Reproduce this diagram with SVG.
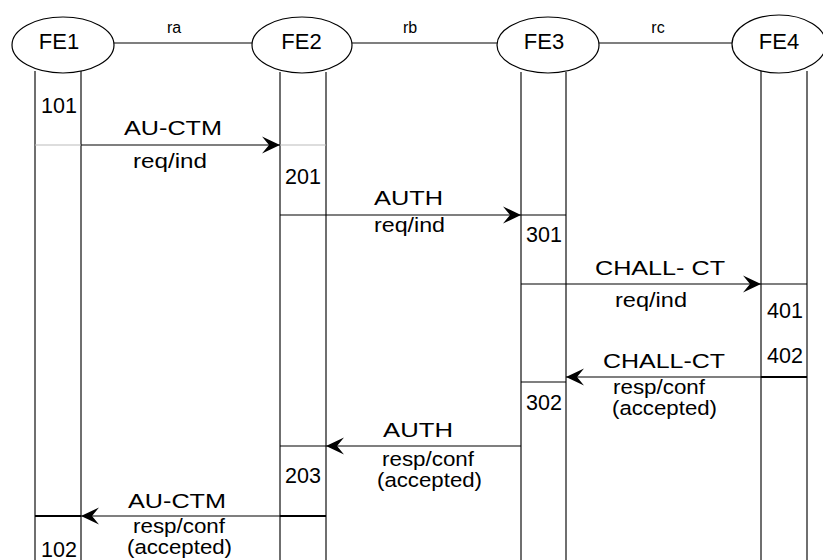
<svg xmlns="http://www.w3.org/2000/svg" width="823" height="560" viewBox="0 0 823 560">
  <style>
    text { font-family: "Liberation Sans", Arial, sans-serif; fill: #000; }
    .fe { font-size: 22px; text-anchor: middle; }
    .ref { font-size: 16px; text-anchor: middle; }
    .num { font-size: 21.5px; }
    .msg { font-size: 20.5px; text-anchor: middle; }
    .node { fill: #fff; stroke: #000; stroke-width: 1.2; }
    .life { stroke: #333; stroke-width: 1.4; fill: none; }
    .ln { stroke: #000; stroke-width: 1.2; fill: none; }
    .faint { stroke: #bbb; stroke-width: 1; fill: none; }
    .thick { stroke: #000; stroke-width: 2.2; fill: none; }
  </style>
  <defs>
    <marker id="head" markerUnits="userSpaceOnUse" markerWidth="20" markerHeight="20" viewBox="-19 -10 20 20" refX="0" refY="0" orient="auto">
      <path d="M0,0 L-18,-8.5 L-11,0 L-18,8.5 Z" fill="#000"/>
    </marker>
  </defs>
  <rect width="823" height="560" fill="#fff"/>

  <!-- lifelines -->
  <g id="lifelines">
    <path class="life" d="M35,71 V560 M81,71 V560"/>
    <path class="life" d="M280,72 V560 M326,72 V560"/>
    <path class="life" d="M521,72 V560 M566,72 V560"/>
    <path class="life" d="M761,71 V560 M807,71 V560"/>
  </g>

  <!-- connectors -->
  <g id="connectors">
    <line class="ln" x1="114" y1="43" x2="252" y2="43"/>
    <line class="ln" x1="352" y1="43" x2="497" y2="43"/>
    <line class="ln" x1="599" y1="43" x2="733" y2="43"/>

    <!-- AU-CTM req/ind -->
    <line class="faint" x1="35" y1="145" x2="81" y2="145"/>
    <line class="ln" x1="81" y1="145" x2="280" y2="145" marker-end="url(#head)"/>
    <line class="faint" x1="280" y1="145" x2="326" y2="145"/>

    <!-- AUTH req/ind -->
    <line class="ln" x1="280" y1="215" x2="521" y2="215" marker-end="url(#head)"/>
    <line class="ln" x1="521" y1="215" x2="566" y2="215"/>

    <!-- CHALL-CT req/ind -->
    <line class="ln" x1="521" y1="284" x2="761" y2="284" marker-end="url(#head)"/>
    <line class="ln" x1="761" y1="284" x2="807" y2="284"/>

    <!-- CHALL-CT resp/conf -->
    <line class="thick" x1="761" y1="377" x2="807" y2="377"/>
    <line class="ln" x1="761" y1="377" x2="566" y2="377" marker-end="url(#head)"/>
    <line class="ln" x1="521" y1="382" x2="566" y2="382"/>

    <!-- AUTH resp/conf -->
    <line class="ln" x1="521" y1="446" x2="326" y2="446" marker-end="url(#head)"/>
    <line class="ln" x1="326" y1="446" x2="280" y2="446"/>

    <!-- AU-CTM resp/conf -->
    <line class="thick" x1="280" y1="516" x2="326" y2="516"/>
    <line class="ln" x1="280" y1="516" x2="81" y2="516" marker-end="url(#head)"/>
    <line class="thick" x1="35" y1="516" x2="81" y2="516"/>
  </g>

  <!-- functional entities -->
  <g id="FE1">
    <ellipse class="node" cx="63" cy="45" rx="51" ry="28"/>
    <text class="fe" x="59" y="49">FE1</text>
  </g>
  <g id="FE2">
    <ellipse class="node" cx="302" cy="45" rx="50" ry="28"/>
    <text class="fe" x="301.5" y="49">FE2</text>
  </g>
  <g id="FE3">
    <ellipse class="node" cx="548" cy="45" rx="51" ry="28"/>
    <text class="fe" x="544" y="49">FE3</text>
  </g>
  <g id="FE4">
    <ellipse class="node" cx="779" cy="44" rx="47" ry="29"/>
    <text class="fe" x="779" y="49">FE4</text>
  </g>

  <!-- reference point labels -->
  <g id="refpoints">
    <text class="ref" x="174" y="33">ra</text>
    <text class="ref" x="410" y="33">rb</text>
    <text class="ref" x="658" y="33">rc</text>
  </g>

  <!-- step numbers -->
  <g id="steps">
    <text class="num" x="41" y="113">101</text>
    <text class="num" x="285" y="184">201</text>
    <text class="num" x="526" y="242">301</text>
    <text class="num" x="767" y="318">401</text>
    <text class="num" x="767" y="363">402</text>
    <text class="num" x="526" y="410">302</text>
    <text class="num" x="285" y="483">203</text>
    <text class="num" x="41" y="557">102</text>
  </g>

  <!-- message labels (glyphs widened to the drawing's wide lettering) -->
  <g id="labels">
    <text class="msg" x="173" y="135" textLength="98" lengthAdjust="spacingAndGlyphs">AU-CTM</text>
    <text class="msg" x="170" y="168" textLength="74" lengthAdjust="spacingAndGlyphs">req/ind</text>
    <text class="msg" x="408.5" y="205" textLength="69" lengthAdjust="spacingAndGlyphs">AUTH</text>
    <text class="msg" x="409.5" y="232" textLength="71" lengthAdjust="spacingAndGlyphs">req/ind</text>
    <text class="msg" x="660" y="275" textLength="130" lengthAdjust="spacingAndGlyphs">CHALL- CT</text>
    <text class="msg" x="651" y="307" textLength="72" lengthAdjust="spacingAndGlyphs">req/ind</text>
    <text class="msg" x="664" y="368" textLength="122" lengthAdjust="spacingAndGlyphs">CHALL-CT</text>
    <text class="msg" x="659" y="394" textLength="92" lengthAdjust="spacingAndGlyphs">resp/conf</text>
    <text class="msg" x="664.5" y="415" textLength="105" lengthAdjust="spacingAndGlyphs">(accepted)</text>
    <text class="msg" x="418" y="437" textLength="70" lengthAdjust="spacingAndGlyphs">AUTH</text>
    <text class="msg" x="428" y="466" textLength="92" lengthAdjust="spacingAndGlyphs">resp/conf</text>
    <text class="msg" x="429.5" y="487" textLength="105" lengthAdjust="spacingAndGlyphs">(accepted)</text>
    <text class="msg" x="177" y="508" textLength="98" lengthAdjust="spacingAndGlyphs">AU-CTM</text>
    <text class="msg" x="179" y="533" textLength="92" lengthAdjust="spacingAndGlyphs">resp/conf</text>
    <text class="msg" x="179.5" y="554" textLength="105" lengthAdjust="spacingAndGlyphs">(accepted)</text>
  </g>
</svg>
